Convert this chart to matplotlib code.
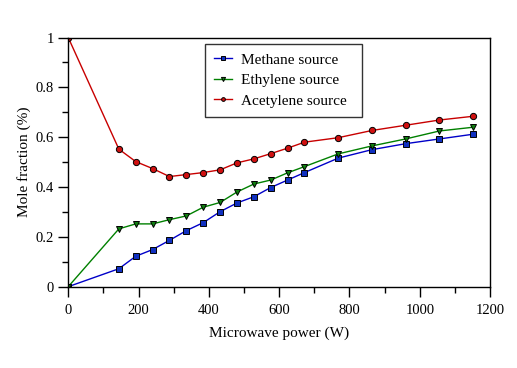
import matplotlib
matplotlib.use('Agg')
import matplotlib.pyplot as plt
from matplotlib.ticker import MultipleLocator

plt.rcParams['font.family'] = ['Liberation Serif', 'DejaVu Serif']

power = [0, 144, 192, 240, 288, 336, 384, 432, 480, 528, 576, 624, 672, 768, 864, 960, 1056, 1152]
methane = [0.0, 0.072, 0.122, 0.149, 0.186, 0.225, 0.257, 0.301, 0.336, 0.361, 0.398, 0.428, 0.458,
           0.516, 0.550, 0.574, 0.593, 0.612]
ethylene = [0.0, 0.232, 0.252, 0.252, 0.269, 0.284, 0.319, 0.338, 0.380, 0.412, 0.428, 0.457, 0.482,
            0.533, 0.565, 0.593, 0.625, 0.640]
acetylene = [1.0, 0.552, 0.502, 0.474, 0.442, 0.450, 0.458, 0.469, 0.497, 0.513, 0.534, 0.556, 0.580,
             0.598, 0.627, 0.648, 0.669, 0.684]

fig = plt.figure(figsize=(5.17, 3.68), dpi=100)
ax = fig.add_axes([0.132, 0.221, 0.816, 0.677])

ax.plot(power, methane, color='#0000c8', lw=1, marker='s', ms=4.5, mfc='#1030c0', mec='black', mew=0.7,
        label='Methane source')
ax.plot(power, ethylene, color='#008000', lw=1, marker='v', ms=5, mfc='#108010', mec='black', mew=0.7,
        label='Ethylene source')
ax.plot(power, acetylene, color='#c80000', lw=1, marker='o', ms=4.5, mfc='#d01010', mec='black', mew=0.7,
        label='Acetylene source')

ax.set_xlim(0, 1200)
ax.set_ylim(0, 1)
ax.xaxis.set_major_locator(MultipleLocator(200))
ax.xaxis.set_minor_locator(MultipleLocator(100))
ax.yaxis.set_minor_locator(MultipleLocator(0.1))
ax.set_yticks([0, 0.2, 0.4, 0.6, 0.8, 1])
ax.set_yticklabels(['0', '0.2', '0.4', '0.6', '0.8', '1'])
ax.tick_params(which='major', direction='out', length=7.5, width=1, labelsize=10.5)
ax.tick_params(which='minor', direction='out', length=4, width=1)
ax.tick_params(axis='x', pad=5)
ax.tick_params(axis='y', pad=3)
for s in ax.spines.values():
    s.set_linewidth(1)

ax.set_xlabel('Microwave power (W)', fontsize=11, labelpad=7)
ax.set_ylabel('Mole fraction (%)', fontsize=11, labelpad=3)

leg = ax.legend(loc='upper left', bbox_to_anchor=(0.323, 0.686, 0.373, 0.289), mode='expand',
                fontsize=11, frameon=True, fancybox=False, edgecolor='black', markerscale=0.6,
                handlelength=1.2, handletextpad=0.6, borderpad=0.6, labelspacing=0.45,
                borderaxespad=0)
leg.get_frame().set_linewidth(1)

fig.savefig('out.png', dpi=100)
